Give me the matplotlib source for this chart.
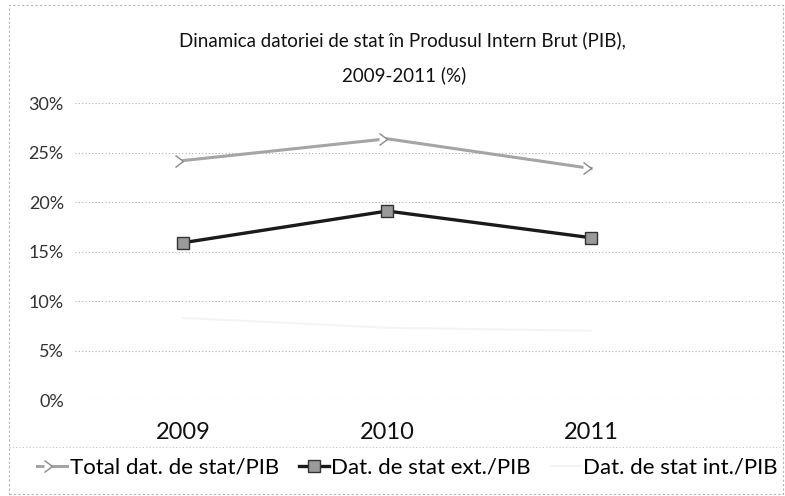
import matplotlib.pyplot as plt
from matplotlib.patches import Rectangle
from matplotlib.ticker import PercentFormatter

plt.rcParams["font.family"] = ["Lato", "DejaVu Sans"]

years = ["2009", "2010", "2011"]
total_pib = [24.2, 26.4, 23.4]
ext_pib = [15.9, 19.1, 16.4]
int_pib = [8.3, 7.3, 7.0]

fig = plt.figure(figsize=(7.85, 4.96), dpi=100)
ax = fig.add_axes([0.0955, 0.1935, 0.9045, 0.5985])

x = range(len(years))

ax.plot(x, total_pib, color="#a5a5a5", linewidth=2.2, marker=5,
        markersize=8, markerfacecolor="white", markeredgecolor="#8a8a8a",
        label="Total dat. de stat/PIB")
ax.plot(x, ext_pib, color="#1a1a1a", linewidth=2.4, marker="s",
        markersize=8, markerfacecolor="#9a9a9a", markeredgecolor="#333333",
        label="Dat. de stat ext./PIB")
ax.plot(x, int_pib, color="#f4f4f4", linewidth=1.5,
        label="Dat. de stat int./PIB")

ax.set_xlim(-0.53, 2.95)
ax.set_ylim(0, 30)
ax.set_yticks(range(0, 31, 5))
ax.yaxis.set_major_formatter(PercentFormatter(decimals=0))
ax.set_xticks(list(x))
ax.set_xticklabels(years, fontsize=17, color="#111111")
ax.tick_params(axis="y", labelsize=13, colors="#333333", length=0, pad=8)
ax.tick_params(axis="x", length=0, pad=16)
ax.grid(axis="y", color="#b0b0b0", linestyle=(0, (1, 2)), linewidth=0.8)
for side in ax.spines:
    ax.spines[side].set_visible(False)

fig.text(0.513, 0.918, "Dinamica datoriei de stat în Produsul Intern Brut (PIB),",
         ha="center", va="center", fontsize=13.5, color="#111111")
fig.text(0.515, 0.848, "2009-2011 (%)", ha="center", va="center", fontsize=13.5,
         color="#111111")

leg = fig.legend(loc="center", bbox_to_anchor=(0.519, 0.057), ncol=3,
                 frameon=False, fontsize=16, handlelength=1.35,
                 handletextpad=0.1, columnspacing=0.9)

fig.add_artist(Rectangle((0.012, 0.005), 0.985, 0.985, transform=fig.transFigure,
                         fill=False, edgecolor="#b5b5b5", linewidth=0.8,
                         linestyle=(0, (2, 2))))
fig.add_artist(plt.Line2D([0.012, 0.997], [0.098, 0.098], transform=fig.transFigure,
                          color="#c0c0c0", linewidth=0.8, linestyle=(0, (1, 2))))

fig.savefig("out.png", dpi=100)
